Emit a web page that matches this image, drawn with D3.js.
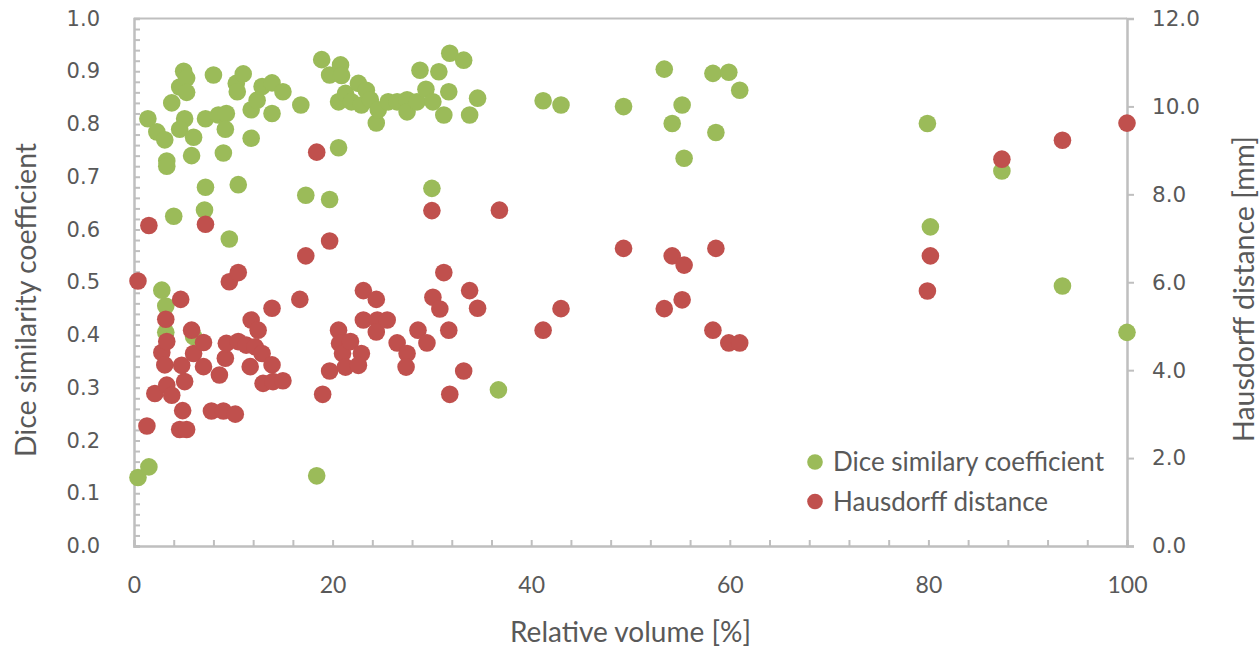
<!DOCTYPE html>
<html>
<head>
	<script src="https://cdn.jsdelivr.net/npm/d3@7"></script>
	<style>
		html, body {
			padding: 0;
			margin: 0;
			background: #fff;
		}
	</style>
</head>
<body>
	<script>
		// data: [relative volume %, value]
		var diceData = [
			[0.4, 0.13], [1.5, 0.15], [1.4, 0.81], [2.3, 0.785], [3.1, 0.77], [3.3, 0.73],
			[3.3, 0.72], [3.8, 0.84], [4.6, 0.87], [5.0, 0.9], [5.3, 0.887], [5.3, 0.86],
			[5.1, 0.81], [4.6, 0.79], [6.0, 0.775], [5.8, 0.74], [4.0, 0.625], [2.8, 0.485],
			[3.2, 0.455], [3.2, 0.405], [6.0, 0.397], [7.2, 0.68], [7.1, 0.637], [7.2, 0.81],
			[8.0, 0.893], [8.5, 0.817], [9.3, 0.82], [9.2, 0.79], [9.0, 0.745], [9.6, 0.582],
			[10.5, 0.685], [10.3, 0.877], [10.4, 0.861], [11.0, 0.895], [11.8, 0.827], [11.8, 0.773],
			[12.4, 0.845], [12.9, 0.871], [13.9, 0.878], [13.9, 0.82], [15.0, 0.861], [16.8, 0.836],
			[17.3, 0.665], [18.4, 0.133], [18.9, 0.922], [19.7, 0.657], [19.7, 0.893], [20.8, 0.912],
			[20.9, 0.892], [20.6, 0.755], [20.6, 0.842], [21.3, 0.858], [21.9, 0.842], [22.6, 0.877],
			[22.9, 0.836], [23.4, 0.864], [23.8, 0.846], [24.4, 0.802], [24.6, 0.827], [25.6, 0.842],
			[26.5, 0.842], [27.5, 0.846], [27.5, 0.823], [28.5, 0.842], [28.8, 0.902], [29.4, 0.866],
			[30.1, 0.842], [30.0, 0.678], [30.7, 0.899], [31.2, 0.817], [31.7, 0.861], [31.8, 0.934],
			[33.2, 0.921], [33.8, 0.817], [34.6, 0.849], [36.7, 0.296], [41.2, 0.844], [43.0, 0.836],
			[49.3, 0.833], [53.4, 0.904], [54.2, 0.801], [55.2, 0.836], [55.4, 0.735], [58.3, 0.896],
			[58.6, 0.784], [59.9, 0.898], [61.0, 0.864], [79.9, 0.801], [80.2, 0.605], [87.4, 0.711],
			[93.5, 0.493], [100, 0.405]
		];

		var hausdorffData = [
			[0.4, 6.03], [1.5, 7.29], [1.3, 2.73], [2.1, 3.47], [2.8, 4.40], [3.2, 5.16],
			[3.3, 4.65], [3.1, 4.12], [3.3, 3.66], [3.8, 3.43], [4.8, 4.11], [4.7, 5.61],
			[4.9, 3.08], [4.6, 2.65], [5.3, 2.65], [5.1, 3.74], [5.8, 4.91], [6.0, 4.38],
			[7.0, 4.63], [7.0, 4.08], [7.2, 7.32], [7.8, 3.07], [8.6, 3.89], [9.2, 4.27],
			[9.3, 4.61], [9.0, 3.07], [10.2, 3.0], [9.6, 6.01], [10.5, 6.22], [10.5, 4.65],
			[11.3, 4.57], [12.2, 4.53], [11.8, 5.14], [12.5, 4.91], [11.7, 4.08], [12.9, 4.38],
			[13.0, 3.70], [13.9, 4.12], [14.0, 3.74], [13.9, 5.41], [15.0, 3.76], [16.7, 5.61],
			[17.3, 6.60], [18.4, 8.96], [19.0, 3.45], [19.7, 6.94], [19.7, 3.98], [20.6, 4.91],
			[20.7, 4.61], [21.0, 4.38], [21.8, 4.65], [21.3, 4.07], [22.9, 4.38], [22.6, 4.11],
			[23.1, 5.81], [23.1, 5.14], [24.4, 5.61], [24.5, 5.14], [24.4, 4.87], [25.5, 5.14],
			[26.5, 4.62], [27.5, 4.38], [27.4, 4.07], [28.6, 4.91], [29.5, 4.62], [30.0, 7.63],
			[30.1, 5.66], [30.8, 5.39], [31.2, 6.22], [31.7, 4.91], [31.8, 3.45], [33.2, 3.98],
			[33.8, 5.81], [34.6, 5.41], [36.8, 7.64], [41.2, 4.91], [43.0, 5.40], [49.3, 6.77],
			[53.4, 5.40], [54.2, 6.60], [55.2, 5.60], [55.4, 6.39], [58.3, 4.91], [58.6, 6.77],
			[59.9, 4.62], [61.0, 4.62], [79.9, 5.80], [80.2, 6.60], [87.4, 8.80], [93.5, 9.23],
			[100, 9.62]
		];

		var xTickValues = [0, 20, 40, 60, 80, 100];
		var leftTickValues = [0, 0.1, 0.2, 0.3, 0.4, 0.5, 0.6, 0.7, 0.8, 0.9, 1.0];
		var rightTickValues = [0, 2, 4, 6, 8, 10, 12];
		var seriesNames = ["Dice similary coefficient", "Hausdorff distance"];

		var width = 1260, height = 648;
		var plotLeft = 134, plotRight = 1127, plotTop = 18.5, plotBottom = 546;
		var green = "#9bbb59", red = "#c0504d", axisGrey = "#bfbfbf", textGrey = "#595959";
		var dotR = 8.8;
		var labelFont = "Lato, 'Open Sans', sans-serif";

		var svg = d3.select("body").append("svg")
			.attr("width", width)
			.attr("height", height)
			.style("background-color", "white");

		var x = d3.scaleLinear().domain([0, 100]).range([plotLeft, plotRight]);
		var yLeft = d3.scaleLinear().domain([0, 1]).range([plotBottom, plotTop]);
		var yRight = d3.scaleLinear().domain([0, 12]).range([plotBottom, plotTop]);

		//////// AXES ////////
		// bottom axis: small ticks every 4 pointing up, labels every 20
		svg.append("g")
			.attr("transform", "translate(0," + plotBottom + ")")
			.call(d3.axisBottom(x).tickValues(d3.range(0, 101, 4)).tickSize(-6).tickFormat(""));

		svg.append("g")
			.attr("transform", "translate(0," + plotBottom + ")")
			.call(d3.axisBottom(x).tickValues(xTickValues).tickSize(0).tickPadding(31).tickFormat(d3.format("d")))
			.call(function(g) { g.select(".domain").remove(); })
			.selectAll("text")
			.style("font-family", labelFont)
			.style("font-size", "23px")
			.style("fill", textGrey);

		// left axis: minor ticks every 0.02 inside
		svg.append("g")
			.attr("transform", "translate(" + plotLeft + ",0)")
			.call(d3.axisLeft(yLeft).tickValues(d3.range(0, 51).map(function(i) { return i / 50; })).tickSize(-6).tickFormat(""));

		svg.append("g")
			.attr("transform", "translate(" + plotLeft + ",0)")
			.call(d3.axisLeft(yLeft).tickValues(leftTickValues).tickSize(0).tickPadding(34).tickFormat(d3.format(".1f")))
			.call(function(g) { g.select(".domain").remove(); })
			.selectAll("text")
			.style("font-family", "'DejaVu Sans', sans-serif")
			.style("font-size", "21px")
			.style("fill", textGrey);

		// right axis: outward ticks
		var rightAxis = svg.append("g")
			.attr("transform", "translate(" + plotRight + ",0)")
			.call(d3.axisRight(yRight).tickValues(rightTickValues).tickSize(7).tickPadding(18).tickFormat(d3.format(".1f")));

		rightAxis.selectAll("text")
			.style("font-family", "'DejaVu Sans', sans-serif")
			.style("font-size", "21.5px")
			.style("fill", textGrey);

		// top border of the plot area
		svg.append("line")
			.attr("x1", plotLeft).attr("x2", plotRight)
			.attr("y1", plotTop).attr("y2", plotTop);

		svg.selectAll(".domain, .tick line, line")
			.attr("stroke", axisGrey)
			.attr("stroke-width", 2);
		svg.selectAll(".domain").attr("stroke-width", 2.5);

		//////// AXIS TITLES ////////
		svg.append("text")
			.attr("x", (plotLeft + plotRight) / 2)
			.attr("y", 642)
			.attr("text-anchor", "middle")
			.style("font-family", labelFont)
			.style("font-size", "28px")
			.style("fill", textGrey)
			.text("Relative volume [%]");

		svg.append("text")
			.attr("transform", "translate(36,300) rotate(-90)")
			.attr("text-anchor", "middle")
			.style("font-family", labelFont)
			.style("font-size", "28.5px")
			.style("fill", textGrey)
			.text("Dice similarity coefficient");

		svg.append("text")
			.attr("transform", "translate(1254,289) rotate(-90)")
			.attr("text-anchor", "middle")
			.style("font-family", labelFont)
			.style("font-size", "28.5px")
			.style("fill", textGrey)
			.text("Hausdorff distance [mm]");

		//////// POINTS ////////
		svg.append("g").selectAll("circle")
			.data(diceData)
			.enter().append("circle")
			.attr("cx", function(d) { return x(d[0]); })
			.attr("cy", function(d) { return yLeft(d[1]); })
			.attr("r", dotR)
			.attr("fill", green);

		svg.append("g").selectAll("circle")
			.data(hausdorffData)
			.enter().append("circle")
			.attr("cx", function(d) { return x(d[0]); })
			.attr("cy", function(d) { return yRight(d[1]); })
			.attr("r", dotR)
			.attr("fill", red);

		//////// LEGEND ////////
		var legend = svg.append("g").attr("transform", "translate(815,462)");
		var items = legend.selectAll("g")
			.data(seriesNames)
			.enter().append("g")
			.attr("transform", function(d, i) { return "translate(0," + (i * 39.5) + ")"; });

		items.append("circle")
			.attr("r", 7.8)
			.attr("fill", function(d, i) { return i === 0 ? green : red; });

		items.append("text")
			.attr("x", 18)
			.attr("y", 9)
			.style("font-family", labelFont)
			.style("font-size", "26px")
			.style("fill", textGrey)
			.text(function(d) { return d; });
	</script>
</body>
</html>
